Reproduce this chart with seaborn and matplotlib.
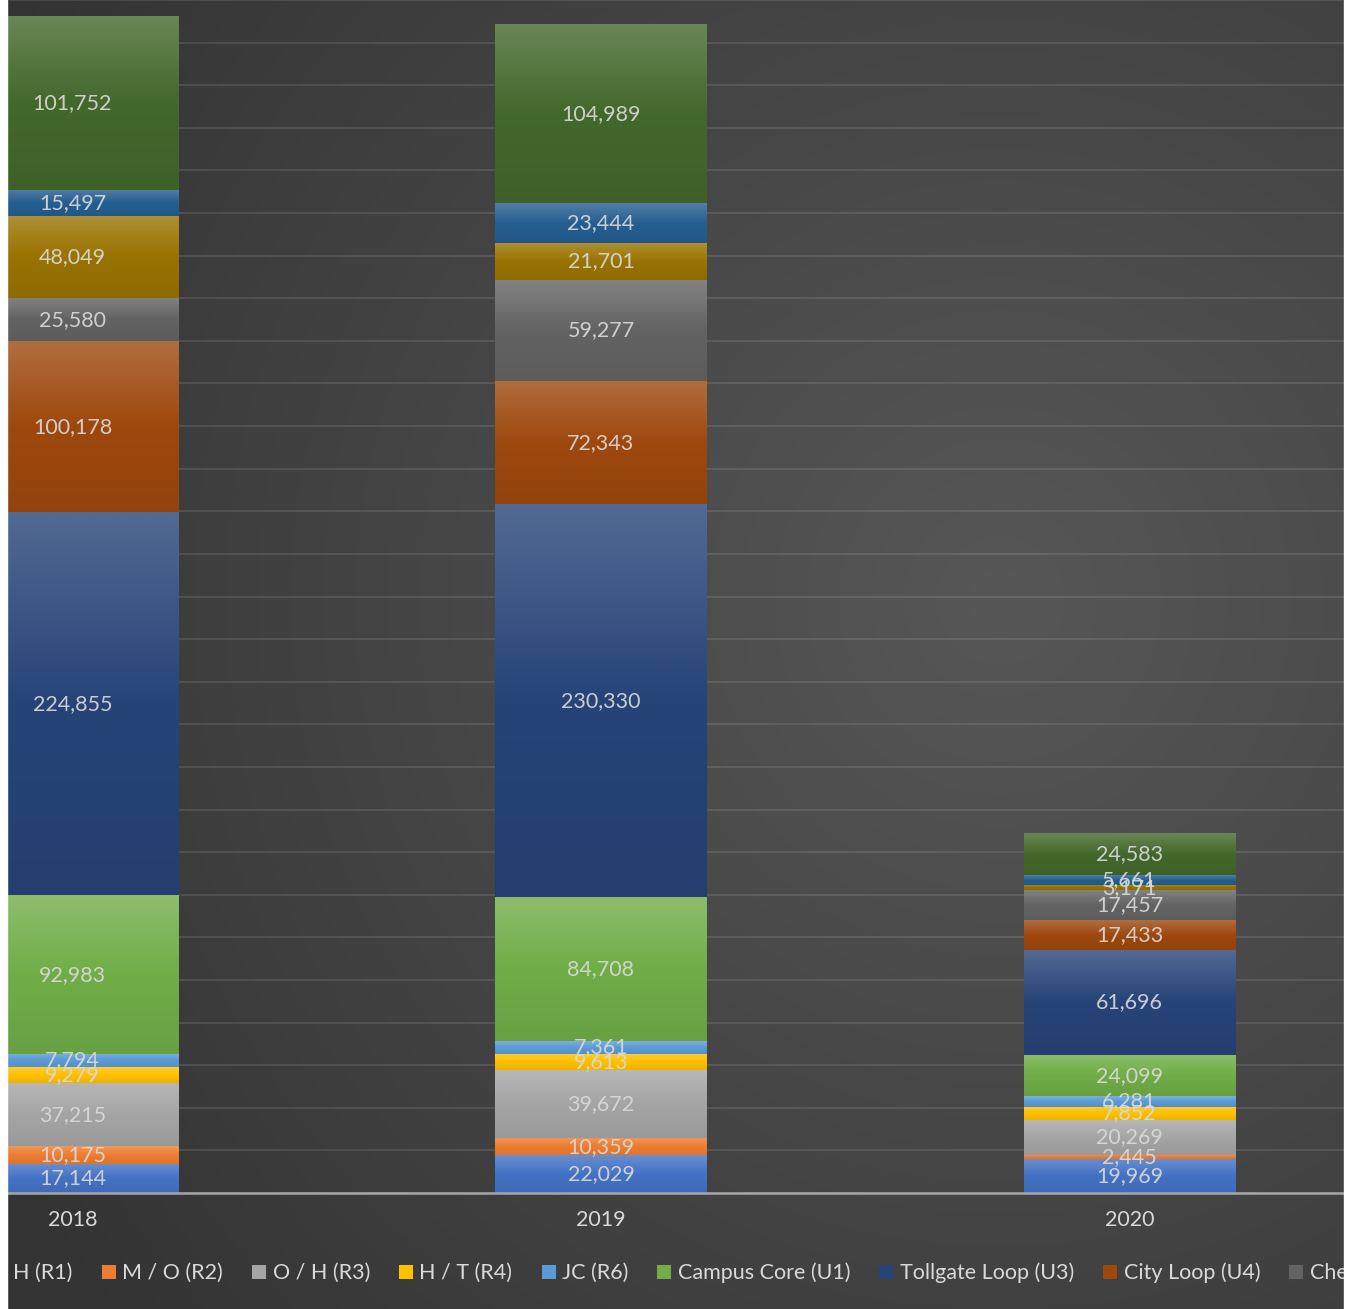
import numpy as np
import seaborn as sns
import matplotlib.pyplot as plt
from matplotlib.colors import to_rgb
from matplotlib.patches import Rectangle

years = ["2018", "2019", "2020"]

routes = ["W / H (R1)", "M / O (R2)", "O / H (R3)", "H / T (R4)", "JC (R6)",
          "Campus Core (U1)", "Tollgate Loop (U3)", "City Loop (U4)",
          "Chestnut (U5)", "Express (U6)", "Shuttle (U7)", "Other"]

r1 = [17144, 22029, 19969]
r2 = [10175, 10359, 2445]
r3 = [37215, 39672, 20269]
r4 = [9279, 9613, 7852]
r6 = [7794, 7361, 6281]
u1 = [92983, 84708, 24099]
u3 = [224855, 230330, 61696]
u4 = [100178, 72343, 17433]
u5 = [25580, 59277, 17457]
u6 = [48049, 21701, 3171]
u7 = [15497, 23444, 5661]
other = [101752, 104989, 24583]

colours = ["#4472C4", "#ED7D31", "#A5A5A5", "#FFC000", "#5B9BD5", "#70AD47",
           "#264478", "#9E480E", "#636363", "#997300", "#255E91", "#43682B"]


def gradient(c, n=64):
    # lighter at the top, base colour from the middle down
    c = np.array(to_rgb(c))
    top = c + (1 - c) * 0.2
    bot = c * 0.93
    t = np.linspace(0, 1, n)[:, None]
    g = np.where(t < 0.5, top + (c - top) * (t / 0.5), c + (bot - c) * ((t - 0.5) / 0.5))
    return g[:, None, :]


def main():
    sns.set_theme(style="white")
    plt.rcParams['font.family'] = ['Lato', 'DejaVu Sans']

    vals = np.array([r1, r2, r3, r4, r6, u1, u3, u4, u5, u6, u7, other])
    cum = np.cumsum(vals, axis=0)

    W, H = 1350, 1309
    fig = plt.figure(figsize=(W / 100, H / 100), dpi=100, facecolor="white")

    # background with a soft radial glow
    bg = fig.add_axes([7 / W, 0, 1337 / W, 1], zorder=-1)
    yy, xx = np.mgrid[0:H, 7:1344]
    d = np.hypot(xx - 1000, (yy - 600) * 1.0)
    lum = np.clip(87 - 0.031 * d, 51, 87) / 255
    bg.imshow(np.dstack([lum, lum, lum]), aspect="auto", extent=(0, 1, 0, 1))
    bg.set_axis_off()

    ax = fig.add_axes([7 / W, (H - 1193) / H, 1337 / W, 1193 / H])
    ax.set_facecolor("none")

    width = 0.401
    for i in reversed(range(len(routes))):
        sns.barplot(x=years, y=cum[i], color=colours[i], saturation=1,
                    width=width, errorbar=None, label=routes[i], ax=ax,
                    zorder=2, linewidth=0)

    for i in range(len(routes)):
        g = gradient(colours[i])
        for j in range(len(years)):
            y0 = cum[i - 1][j] if i > 0 else 0
            y1 = cum[i][j]
            ax.imshow(g, extent=(j - width / 2, j + width / 2, y0, y1),
                      aspect="auto", zorder=3, interpolation="bilinear")
            ax.text(j, (y0 + y1) / 2, f"{vals[i][j]:,}", ha="center", va="center",
                    fontsize=15.5, color="#d9d9d9", alpha=0.92, zorder=4)

    ax.set_xlim(-0.1239, 2.4059)
    ax.set_ylim(0, 695300)
    ax.set_yticks(np.arange(0, 700001, 25000))
    ax.yaxis.grid(True, color="white", alpha=0.1, lw=1.5)
    ax.set_axisbelow(True)
    ax.tick_params(axis="y", left=False, labelleft=False)
    ax.tick_params(axis="x", length=0, pad=12, labelsize=15.5, labelcolor="#d9d9d9")
    ax.set_xlabel("")
    ax.set_ylabel("")
    for s in ["top", "left", "right"]:
        ax.spines[s].set_visible(False)
    ax.spines["bottom"].set_color("#a6a6a6")
    ax.spines["bottom"].set_linewidth(1.8)
    ax.spines["bottom"].set_zorder(5)

    handles, labels = ax.get_legend_handles_labels()
    if ax.get_legend():
        ax.get_legend().remove()
    fig.legend(handles[::-1], labels[::-1], ncol=12, frameon=False,
               loc="center left", bbox_to_anchor=(-50 / W, 36 / H),
               fontsize=15.5, labelcolor="#d9d9d9", handlelength=0.65,
               handleheight=0.65, handletextpad=0.3, columnspacing=1.35,
               borderpad=0, borderaxespad=0)

    # the chart is clipped at both sides
    fig.add_artist(Rectangle((0, 0), 7 / W, 1, transform=fig.transFigure,
                             color="white", zorder=20))
    fig.add_artist(Rectangle((1344 / W, 0), 6 / W, 1, transform=fig.transFigure,
                             color="white", zorder=20))

    fig.savefig("out.png", dpi=100, facecolor="white")


if __name__ == "__main__":
    main()
